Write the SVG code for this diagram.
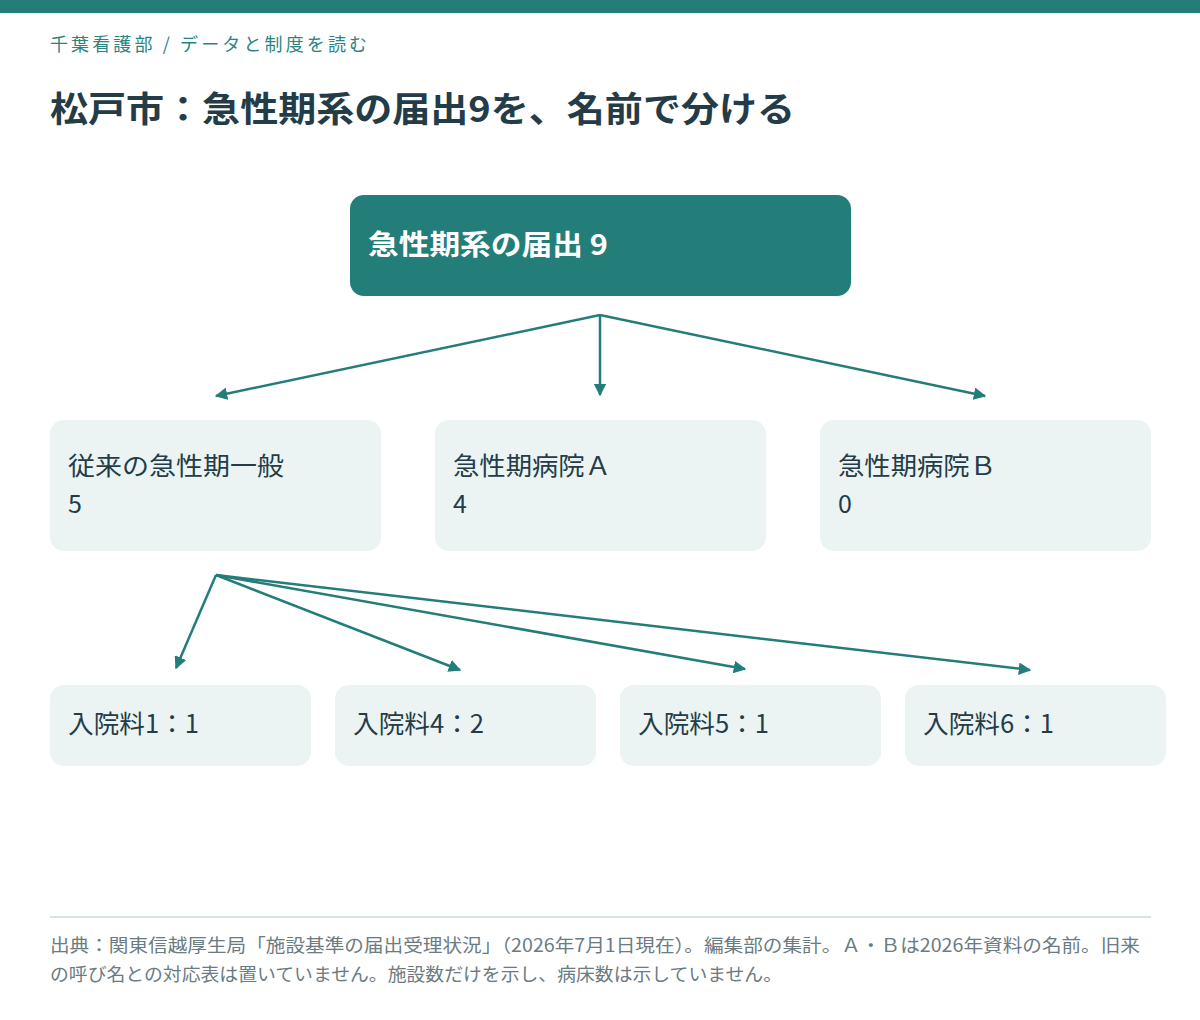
<svg xmlns="http://www.w3.org/2000/svg" width="1200" height="1020" viewBox="0 0 1200 1020">
<style>
.t{font-family:"Noto Sans CJK JP","Noto Sans",sans-serif}
.box{fill:#ebf4f3}
.lbl{font-size:25px;fill:#243c48}
.c{stroke:#237d79;stroke-width:2.5;fill:none;marker-end:url(#a)}
</style>
<defs><marker id="a" viewBox="0 0 10 10" refX="9" refY="5" markerWidth="5" markerHeight="5" orient="auto" markerUnits="strokeWidth"><path d="M0,0L10,5L0,10z" fill="#237d79"/></marker></defs>
<rect width="1200" height="1020" fill="#fff"/>
<rect width="1200" height="13" fill="#237d79"/>
<text class="t" x="50" y="51" font-size="18" fill="#2a8580" textLength="317" lengthAdjust="spacing">千葉看護部  /  データと制度を読む</text>
<text class="t" x="50" y="122" font-size="35" font-weight="bold" fill="#243c48" textLength="745" lengthAdjust="spacingAndGlyphs">松戸市：急性期系の届出9を、名前で分ける</text>
<g id="connectors">
<path class="c" d="M600,315L216,396"/>
<path class="c" d="M600,315L600,395"/>
<path class="c" d="M600,315L985,396"/>
<path class="c" d="M216,575L176,668"/>
<path class="c" d="M216,575L460,670"/>
<path class="c" d="M216,575L745,669"/>
<path class="c" d="M216,575L1030,670"/>
</g>
<g id="root"><rect x="350" y="195" width="501" height="101" rx="14" fill="#237d79"/><text class="t" x="368" y="255" font-size="28" font-weight="bold" fill="#fff" textLength="240" lengthAdjust="spacingAndGlyphs">急性期系の届出 9</text></g>
<g id="n1"><rect class="box" x="50" y="420" width="331" height="131" rx="14"/><text class="t lbl" x="68" y="475" textLength="216" lengthAdjust="spacingAndGlyphs">従来の急性期一般</text><text class="t lbl" x="68" y="513">5</text></g>
<g id="n2"><rect class="box" x="435" y="420" width="331" height="131" rx="14"/><text class="t lbl" x="453" y="475" textLength="158" lengthAdjust="spacingAndGlyphs">急性期病院Ａ</text><text class="t lbl" x="453" y="513">4</text></g>
<g id="n3"><rect class="box" x="820" y="420" width="331" height="131" rx="14"/><text class="t lbl" x="838" y="475" textLength="158" lengthAdjust="spacingAndGlyphs">急性期病院Ｂ</text><text class="t lbl" x="838" y="513">0</text></g>
<g id="m1"><rect class="box" x="50" y="685" width="261" height="81" rx="14"/><text class="t lbl" x="68" y="733" textLength="131" lengthAdjust="spacingAndGlyphs">入院料1：1</text></g>
<g id="m2"><rect class="box" x="335" y="685" width="261" height="81" rx="14"/><text class="t lbl" x="353" y="733" textLength="131" lengthAdjust="spacingAndGlyphs">入院料4：2</text></g>
<g id="m3"><rect class="box" x="620" y="685" width="261" height="81" rx="14"/><text class="t lbl" x="638" y="733" textLength="131" lengthAdjust="spacingAndGlyphs">入院料5：1</text></g>
<g id="m4"><rect class="box" x="905" y="685" width="261" height="81" rx="14"/><text class="t lbl" x="923" y="733" textLength="131" lengthAdjust="spacingAndGlyphs">入院料6：1</text></g>
<rect x="50" y="916" width="1101" height="2" fill="#d6e6e4"/>
<text class="t" font-size="18" fill="#6b7b82"><tspan x="50" y="952" textLength="1090" lengthAdjust="spacingAndGlyphs">出典：関東信越厚生局「施設基準の届出受理状況」（2026年7月1日現在）。編集部の集計。Ａ・Ｂは2026年資料の名前。旧来</tspan></text>
<text class="t" font-size="18" fill="#6b7b82" x="50" y="981" textLength="732" lengthAdjust="spacingAndGlyphs">の呼び名との対応表は置いていません。施設数だけを示し、病床数は示していません。</text>
</svg>
